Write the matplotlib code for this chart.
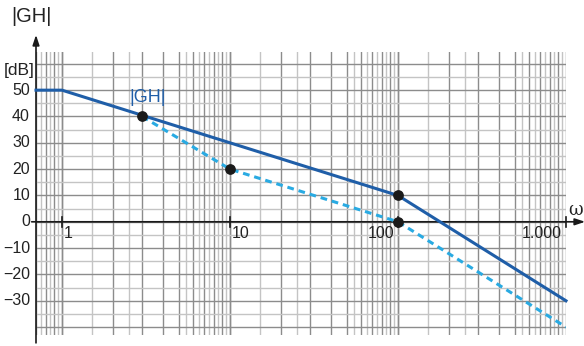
import numpy as np
import matplotlib
matplotlib.use("Agg")
import matplotlib.pyplot as plt
import matplotlib.transforms as mtransforms

plt.rcParams["font.family"] = ["Liberation Sans Narrow", "Liberation Sans", "DejaVu Sans"]

# ── Data ──────────────────────────────────────────────────────────────
solid_w = [0.7, 1, 100, 1000]
solid_db = [50, 50, 10, -30]
dash_w = [3, 10, 100, 1000]
dash_db = [40, 20, 0, -40]
dot_w = [3, 10, 100, 100]
dot_db = [40, 20, 10, 0]
y_ticks = [50, 40, 30, 20, 10, 0, -10, -20, -30]
x_ticks = [1, 10, 100, 1000]
x_labels = ["1", "10", "100", "1.000"]

BLUE = "#1f5ea8"
LIGHT_BLUE = "#29aae2"

fig = plt.figure(figsize=(5.84, 3.46), dpi=100)
ax = fig.add_axes([36 / 584, 1 - 335 / 346, 530 / 584, 283 / 346])
ax.set_xscale("log")
ax.set_xlim(0.7, 1000)
ax.set_ylim(-43, 64.5)
for s in ax.spines.values():
    s.set_visible(False)
ax.set_xticks([])
ax.set_yticks([])
ax.minorticks_off()

# grid: full and half steps in each decade
for dec in [0.1, 1, 10, 100]:
    for m in np.arange(1, 10.01, 0.5):
        if m == 3.5 or m == 4.5:
            continue
        w = m * dec
        if w < 0.7 or w > 1000:
            continue
        if m % 1 == 0:
            ax.axvline(w, color="#8c8c8c", lw=1.0, zorder=1)
        else:
            ax.axvline(w, color="#c4c4c4", lw=1.0, zorder=1)
for y in range(-40, 61, 5):
    c = "#8c8c8c" if y % 10 == 0 else "#c4c4c4"
    ax.axhline(y, color=c, lw=1.0, zorder=1)

# axes with arrows
ax.annotate("", xy=(0.7, 71), xytext=(0.7, -46), annotation_clip=False,
            arrowprops=dict(arrowstyle="-|>,head_length=0.6,head_width=0.2",
                            color="#1a1a1a", lw=1.2, shrinkA=0, shrinkB=0))
ax.annotate("", xy=(1300, 0), xytext=(0.66, 0), annotation_clip=False,
            arrowprops=dict(arrowstyle="-|>,head_length=0.6,head_width=0.2",
                            color="#1a1a1a", lw=1.2, shrinkA=0, shrinkB=0))
for w in x_ticks:
    ax.plot([w, w], [-1.9, 1.9], color="#1a1a1a", lw=1.2, zorder=3, clip_on=False)

# curves
ax.plot(dash_w, dash_db, color=LIGHT_BLUE, lw=2.2, ls=(0, (2.2, 1.6)), zorder=4)
ax.plot(solid_w, solid_db, color=BLUE, lw=2.2, zorder=5, clip_on=False)
ax.scatter(dot_w, dot_db, s=45, color="#1a1a1a", zorder=6, clip_on=False)

# labels
ytrans = mtransforms.offset_copy(ax.get_yaxis_transform(), fig=fig, x=-6, y=0, units="dots")
for y in y_ticks:
    lab = str(y).replace("-", "\u2212")
    ax.text(0, y, lab, transform=ytrans, ha="right", va="center", fontsize=11.5, color="#222222")

for w, lab in zip(x_ticks, x_labels):
    if w < 50:
        ax.text(w, -1.5, lab, ha="left", va="top", fontsize=11.5, color="#222222",
                transform=mtransforms.offset_copy(ax.transData, fig=fig, x=2, y=0, units="dots"))
    else:
        ax.text(w, -1.5, lab, ha="right", va="top", fontsize=11.5, color="#222222",
                transform=mtransforms.offset_copy(ax.transData, fig=fig, x=-4, y=0, units="dots"))

fig.text(4 / 584, 1 - 70 / 346, "[dB]", ha="left", va="center", fontsize=12.5, color="#222222")
fig.text(11 / 584, 1 - 16 / 346, "|GH|", ha="left", va="center", fontsize=14.5, color="#222222")
fig.text(583 / 584, 1 - 210 / 346, "\u03c9", ha="right", va="center", fontsize=13,
         color="#222222", family="DejaVu Serif")
ax.text(3.25, 44, "|GH|", ha="center", va="bottom", fontsize=13, color=BLUE)

fig.savefig("out.png", dpi=100)
